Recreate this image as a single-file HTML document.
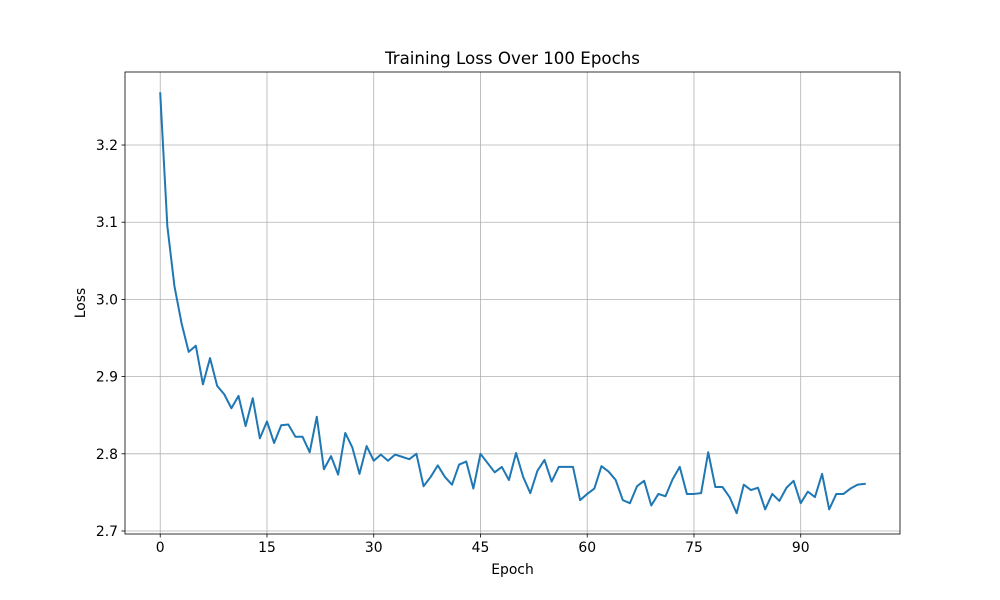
<!DOCTYPE html>
<html><head><meta charset="utf-8"><style>body{margin:0;background:#fff}svg{display:block;font-family:"DejaVu Sans","Liberation Sans",sans-serif}</style></head>
<body>
<svg id="chart" width="1000" height="600" xmlns="http://www.w3.org/2000/svg"></svg>
<script>
const xTicks=[0,15,30,45,60,75,90];
const yTicks=[2.7,2.8,2.9,3.0,3.1,3.2];
const yTickLabels=["2.7","2.8","2.9","3.0","3.1","3.2"];
const loss=[3.267,3.095,3.017,2.969,2.932,2.940,2.890,2.924,2.888,2.877,2.859,2.875,2.836,2.872,2.820,2.842,2.814,2.837,2.838,2.822,2.822,2.802,2.848,2.780,2.797,2.773,2.827,2.808,2.774,2.810,2.791,2.799,2.791,2.799,2.796,2.793,2.800,2.758,2.770,2.785,2.770,2.760,2.786,2.790,2.755,2.800,2.788,2.776,2.783,2.766,2.801,2.770,2.749,2.778,2.792,2.764,2.783,2.783,2.783,2.740,2.748,2.755,2.784,2.777,2.766,2.740,2.736,2.758,2.765,2.733,2.748,2.745,2.767,2.783,2.748,2.748,2.749,2.802,2.757,2.757,2.744,2.723,2.760,2.753,2.756,2.728,2.748,2.739,2.756,2.765,2.736,2.751,2.744,2.774,2.728,2.748,2.748,2.755,2.760,2.761];
const L=125,R=900,T=72,B=534;
const xMin=-4.95,xMax=103.95,yMin=2.6961,yMax=3.2946;
const sx=v=>L+(v-xMin)/(xMax-xMin)*(R-L);
const sy=v=>B-(v-yMin)/(yMax-yMin)*(B-T);
const svg=document.getElementById('chart');
const NS='http://www.w3.org/2000/svg';
function mk(tag,attrs,parent){const e=document.createElementNS(NS,tag);for(const k in attrs)e.setAttribute(k,attrs[k]);(parent||svg).appendChild(e);return e;}
xTicks.forEach(t=>{const x=sx(t);
const g=mk('line',{x1:x,x2:x,y1:T,y2:B,stroke:'#b0b0b0','stroke-width':0.8});


const tk=mk('line',{x1:x,x2:x,y1:B,y2:B+3.5,stroke:'#000','stroke-width':0.8});


const tx=mk('text',{x:x,y:B+18,'font-size':13.9,'text-anchor':'middle',fill:'#000'});tx.textContent=t;


});
yTicks.forEach((t,i)=>{const y=sy(t);
const g=mk('line',{x1:L,x2:R,y1:y,y2:y,stroke:'#b0b0b0','stroke-width':0.8});


const tk=mk('line',{x1:L-3.5,x2:L,y1:y,y2:y,stroke:'#000','stroke-width':0.8});


const tx=mk('text',{x:L-7,y:y+5,'font-size':13.9,'text-anchor':'end',fill:'#000'});tx.textContent=yTickLabels[i];


});
const pts=loss.map((v,i)=>sx(i).toFixed(2)+','+sy(v).toFixed(2)).join(' ');
const line=mk('polyline',{points:pts,fill:'none',stroke:'#1f77b4','stroke-width':2,'stroke-linejoin':'round','stroke-linecap':'square'});


const frame=mk('rect',{x:L,y:T,width:R-L,height:B-T,fill:'none',stroke:'#000','stroke-width':0.8});


const title=mk('text',{x:(L+R)/2,y:64,'font-size':16.67,'text-anchor':'middle',fill:'#000'});title.textContent='Training Loss Over 100 Epochs';


const xl=mk('text',{x:(L+R)/2,y:574,'font-size':13.9,'text-anchor':'middle',fill:'#000'});xl.textContent='Epoch';


const yl=mk('text',{x:85,y:(T+B)/2,'font-size':13.9,'text-anchor':'middle',fill:'#000',transform:'rotate(-90 85 '+((T+B)/2)+')'});yl.textContent='Loss';


</script>
</body></html>
